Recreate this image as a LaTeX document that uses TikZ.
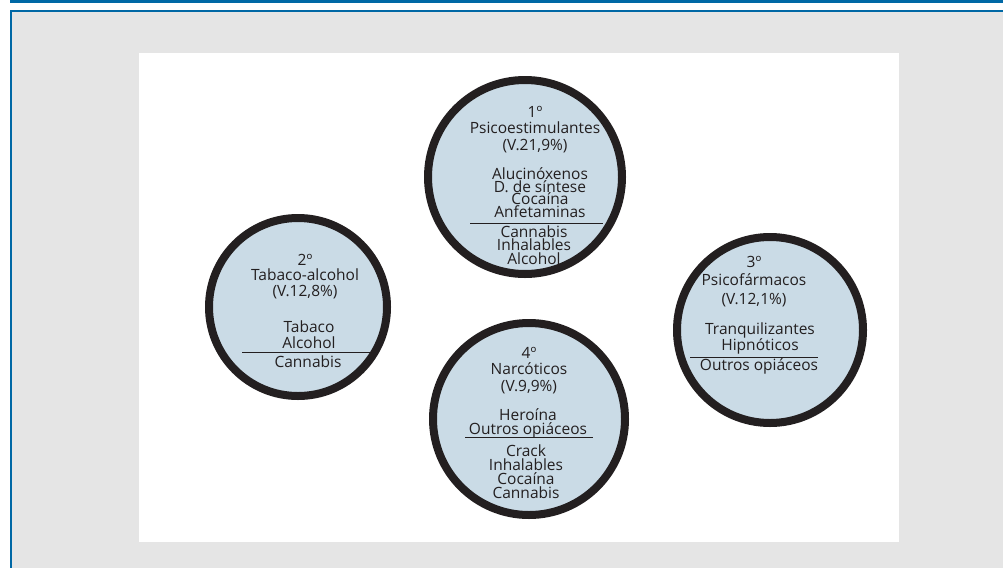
\documentclass[tikz,border=0pt]{standalone}
\usepackage{fontspec}
\setmainfont{Open Sans}
\definecolor{frameblue}{RGB}{0,104,165}
\definecolor{panelgrey}{RGB}{229,229,229}
\definecolor{discblue}{RGB}{202,219,230}
\definecolor{inkdark}{RGB}{35,31,32}
\begin{document}
\begin{tikzpicture}
    [x=1pt,y=-1pt,
    disc/.style={circle,draw=inkdark,fill=discblue,line width=8pt,minimum size=#1,inner sep=0pt},
    txt/.style={text=inkdark,font=\fontsize{15.5}{#1}\selectfont,align=center,anchor=base,inner sep=0pt},
    sep/.style={draw=inkdark,line width=1pt}]

    \useasboundingbox (0,0) rectangle (1003,568);
    % frame and panel
    \fill[frameblue] (10,0) rectangle (1003,3);
    \fill[frameblue] (10,10) rectangle (1003,12);
    \fill[frameblue] (10,10) rectangle (12,568);
    \fill[panelgrey] (12,12) rectangle (1003,568);
    \fill[white] (139,53) rectangle (899,542);

    \node[disc=194pt] (d1) at (525,177) {};
    \node[disc=178pt] (d2) at (298,307) {};
    \node[disc=186pt] (d3) at (770,330) {};
    \node[disc=192pt] (d4) at (529,419) {};

    % 1 (base = last line)
    \node[txt=16.5pt] (h1) at (535,150) {1º\\Psicoestimulantes\\(V.21,9\%)};
    \node[txt=12.5pt] (a1) at (540,217) {Alucinóxenos\\D. de síntese\\Cocaína\\Anfetaminas};
    \draw[sep] (470,223) -- (603,223);
    \node[txt=13.5pt] (b1) at (534,264) {Cannabis\\Inhalables\\Alcohol};

    % 2
    \node[txt=15.5pt] (h2) at (305,296) {2º\\Tabaco-alcohol\\(V.12,8\%)};
    \node[txt=16pt] (a2) at (309,348) {Tabaco\\Alcohol};
    \draw[sep] (242,352) -- (372,352);
    \node[txt=16pt] (b2) at (308,367) {Cannabis};

    % 3
    \node[txt=18.5pt] (h3) at (754,304) {3º\\Psicofármacos\\(V.12,1\%)};
    \node[txt=16pt] (a3) at (760,350) {Tranquilizantes\\Hipnóticos};
    \draw[sep] (690,357) -- (818,357);
    \node[txt=16pt] (b3) at (759,370) {Outros opiáceos};

    % 4
    \node[txt=16.5pt] (h4) at (529,391) {4º\\Narcóticos\\(V.9,9\%)};
    \node[txt=12pt] (a4) at (528,434) {Heroína\\Outros opiáceos};
    \draw[sep] (465,437) -- (593,437);
    \node[txt=13.7pt] (b4) at (526,498) {Crack\\Inhalables\\Cocaína\\Cannabis};
\end{tikzpicture}
\end{document}
